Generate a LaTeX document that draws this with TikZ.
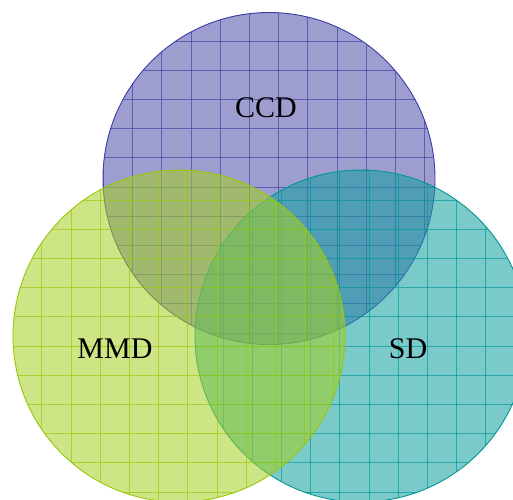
\documentclass[tikz,border=0pt]{standalone}
\usepackage{fontspec}
\setmainfont{Liberation Serif}
\definecolor{ccdcol}{RGB}{80,80,172}
\definecolor{sdcol}{RGB}{20,160,160}
\definecolor{mmdcol}{RGB}{165,208,35}
\definecolor{ccdline}{RGB}{60,60,165}
\definecolor{sdline}{RGB}{0,150,150}
\definecolor{mmdline}{RGB}{150,200,10}

% one set of the diagram: tinted disc with its own square grid
% #1 centre x, #2 centre y, #3 fill colour, #4 line colour,
% #5 x of a vertical grid line, #6 y of a horizontal grid line, #7 node name
\newcommand\vennset[7]{%
  \begin{scope}
    \clip (#1,#2) circle (166);
    \fill[setfill=#3] (#1,#2) circle (166);
    \foreach \k in {-6,...,6} {
      \draw[gridline=#4] ({#5+29.2*\k},{#2-170}) -- ({#5+29.2*\k},{#2+170});
      \draw[gridline=#4] ({#1-170},{#6+29.2*\k}) -- ({#1+170},{#6+29.2*\k});
    }
  \end{scope}
  \node[setrim=#4] (#7) at (#1,#2) {};
}

\begin{document}
\begin{tikzpicture}[x=1pt,y=-1pt,
  setfill/.style={fill=#1,fill opacity=0.56},
  gridline/.style={draw=#1,draw opacity=0.65,line width=0.75pt},
  setrim/.style={circle,draw=#1,line width=0.9pt,minimum size=332pt,inner sep=0pt,outer sep=0pt},
  setlabel/.style={font=\fontsize{30}{36}\selectfont,text=black,inner sep=0pt}]
\useasboundingbox (0,0) rectangle (513,499);

\vennset{269}{178.5}{ccdcol}{ccdline}{249.3}{187}{ccd}
\vennset{361}{336}{sdcol}{sdline}{369}{346}{sd}
\vennset{179}{336}{mmdcol}{mmdline}{158.5}{346}{mmd}

\node[setlabel] (ccdlabel) at (266,108) {CCD};
\node[setlabel] (mmdlabel) at (115,349) {MMD};
\node[setlabel] (sdlabel) at (408,349) {SD};
\end{tikzpicture}
\end{document}
